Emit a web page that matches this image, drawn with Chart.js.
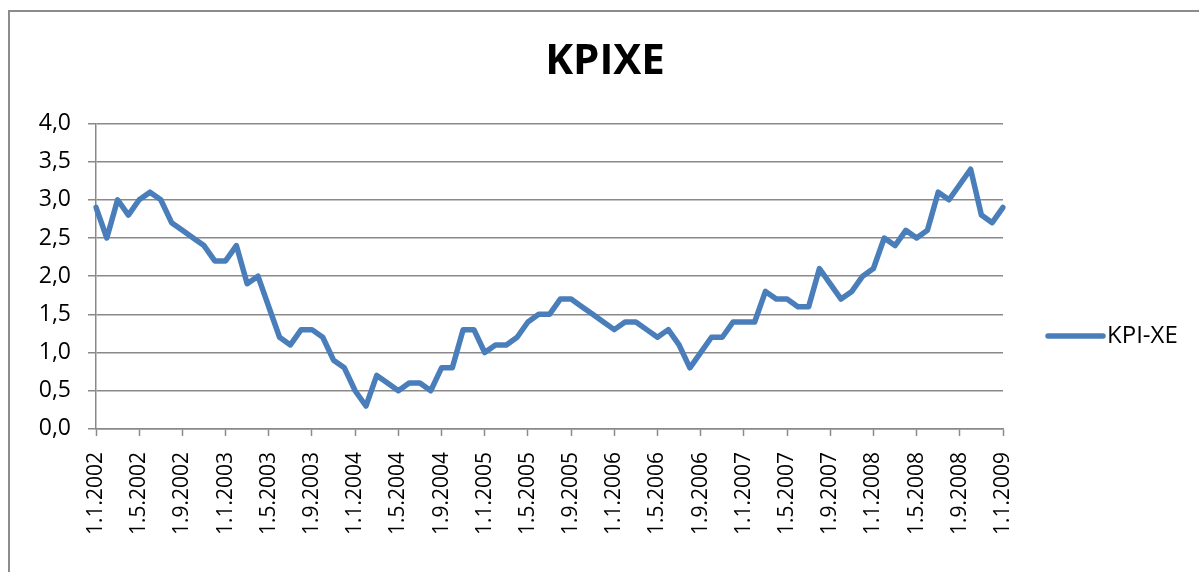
<!DOCTYPE html>
<html>
<head>
<meta charset="utf-8">
<script src="https://cdn.jsdelivr.net/npm/chart.js@4.4.1/dist/chart.umd.min.js"></script>
<style>
  html, body { margin: 0; padding: 0; background: #fff; }
  #wrap { position: relative; width: 1199px; height: 572px; overflow: hidden; }
  #frame { position: absolute; left: 8px; top: 10px; width: 1300px; height: 700px;
           border-top: 2px solid #8c8c8c; border-left: 2px solid #8c8c8c; }
  canvas { position: absolute; left: 0; top: 0; }
</style>
</head>
<body>
<div id="wrap">
  <div id="frame"></div>
  <canvas id="chart" width="1199" height="572"></canvas>
</div>
<script>
  /* ── Data ── */
  var chartTitle = "KPIXE";
  var seriesName = "KPI-XE";

  // monthly, 1.1.2002 .. 1.1.2009
  var labels = [];
  for (var y = 2002; y <= 2009; y++) {
    for (var m = 1; m <= 12; m++) {
      if (y === 2009 && m > 1) break;
      labels.push("1." + m + "." + y);
    }
  }

  var kpiXe = [
    2.9, 2.5, 3.0, 2.8, 3.0, 3.1, 3.0, 2.7, 2.6, 2.5, 2.4, 2.2,   // 2002
    2.2, 2.4, 1.9, 2.0, 1.6, 1.2, 1.1, 1.3, 1.3, 1.2, 0.9, 0.8,   // 2003
    0.5, 0.3, 0.7, 0.6, 0.5, 0.6, 0.6, 0.5, 0.8, 0.8, 1.3, 1.3,   // 2004
    1.0, 1.1, 1.1, 1.2, 1.4, 1.5, 1.5, 1.7, 1.7, 1.6, 1.5, 1.4,   // 2005
    1.3, 1.4, 1.4, 1.3, 1.2, 1.3, 1.1, 0.8, 1.0, 1.2, 1.2, 1.4,   // 2006
    1.4, 1.4, 1.8, 1.7, 1.7, 1.6, 1.6, 2.1, 1.9, 1.7, 1.8, 2.0,   // 2007
    2.1, 2.5, 2.4, 2.6, 2.5, 2.6, 3.1, 3.0, 3.2, 3.4, 2.8, 2.7,   // 2008
    2.9                                                           // 2009
  ];

  var yMin = 0, yMax = 4, yStep = 0.5;
  var labelEvery = 4;

  /* ── Style ── */
  var lineColor = "#4a7ebb";
  var gridColor = "#898989";
  var fontFamily = "'Open Sans', 'Noto Sans', sans-serif";

  Chart.defaults.font.family = fontFamily;
  Chart.defaults.color = "#000";

  /* ── Legend at the right, Excel style ── */
  var sideLegend = {
    id: "sideLegend",
    afterDraw: function (chart) {
      var c = chart.ctx;
      var ds = chart.data.datasets[0];
      var x0 = chart.chartArea.right + 45, yMid = 336;
      c.save();
      c.strokeStyle = ds.borderColor;
      c.lineWidth = ds.borderWidth;
      c.lineCap = "round";
      c.beginPath();
      c.moveTo(x0, yMid);
      c.lineTo(x0 + 55, yMid);
      c.stroke();
      c.fillStyle = "#000";
      c.font = "24px " + fontFamily;
      c.textAlign = "left";
      c.textBaseline = "middle";
      c.fillText(ds.label, x0 + 59, yMid);
      c.restore();
    }
  };

  var ctx = document.getElementById("chart").getContext("2d");
  new Chart(ctx, {
    type: "line",
    data: {
      labels: labels,
      datasets: [{
        label: seriesName,
        data: kpiXe,
        borderColor: lineColor,
        backgroundColor: lineColor,
        borderWidth: 5.5,
        borderCapStyle: "round",
        borderJoinStyle: "round",
        pointRadius: 0,
        tension: 0,
        fill: false
      }]
    },
    plugins: [sideLegend],
    options: {
      responsive: false,
      animation: false,
      layout: { padding: { left: 11, right: 0, top: 0, bottom: 21 } },
      plugins: {
        title: {
          display: true,
          text: chartTitle,
          font: { size: 42, weight: "bold" },
          padding: { top: 37, bottom: 36 }
        },
        legend: { display: false },
        tooltip: { enabled: false }
      },
      scales: {
        x: {
          offset: false,
          grid: {
            drawOnChartArea: false,
            tickLength: 7,
            tickWidth: 1.5,
            tickColor: function (c) { return c.index % labelEvery === 0 ? gridColor : "rgba(0,0,0,0)"; }
          },
          border: { color: gridColor, width: 1.5 },
          ticks: {
            autoSkip: false,
            minRotation: 90,
            maxRotation: 90,
            padding: 16,
            font: { size: 21 },
            callback: function (v, i) { return i % labelEvery === 0 ? labels[i] : ""; }
          }
        },
        y: {
          min: yMin,
          max: yMax,
          grid: { color: gridColor, lineWidth: 1.5, tickLength: 8 },
          border: { color: gridColor, width: 1.5 },
          ticks: {
            stepSize: yStep,
            padding: 17,
            font: { size: 23 },
            callback: function (v) { return v.toFixed(1).replace(".", ","); }
          },
          afterFit: function (s) { s.width = 85; }
        },
        // empty right-hand band that holds the legend
        legendSpace: {
          type: "linear",
          position: "right",
          grid: { display: false },
          border: { display: false },
          ticks: { display: false },
          afterFit: function (s) { s.width = 196; }
        }
      }
    }
  });
</script>
</body>
</html>
